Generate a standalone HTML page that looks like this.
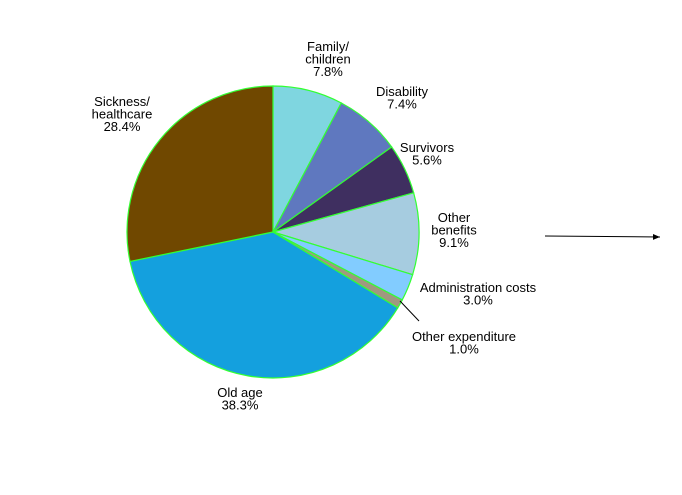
<!DOCTYPE html>
<html><head><meta charset="utf-8"><style>
body{margin:0;background:#fff;}
svg{display:block;font-family:"Liberation Sans",Arial,sans-serif;font-size:13px;}
</style></head><body>
<svg id="chart" width="682" height="495">
<defs><marker id="ah" markerWidth="8" markerHeight="8" refX="7" refY="4" orient="auto"><path d="M0,1 L7,4 L0,7 Z" fill="#000"/></marker></defs>
<g id="slices"></g>
<line x1="400" y1="301" x2="419" y2="321" stroke="#000" stroke-width="1"/>
<line x1="545" y1="236" x2="660" y2="237" stroke="#000" stroke-width="1" marker-end="url(#ah)"/>
<g id="labels" text-anchor="middle" fill="#000"></g>
</svg>
<script>
const categories=["Family/ children","Disability","Survivors","Other benefits","Administration costs","Other expenditure","Old age","Sickness/ healthcare"];
const values=[7.8,7.4,5.6,9.1,3.0,1.0,38.3,28.4];
const colors=["#7fd6e0","#5f78bf","#3f2f60","#a6cce0","#82ccff","#a09880","#14a0de","#704800"];
const labelLines=[["Family/","children","7.8%"],["Disability","7.4%"],["Survivors","5.6%"],["Other","benefits","9.1%"],["Administration costs","3.0%"],["Other expenditure","1.0%"],["Old age","38.3%"],["Sickness/","healthcare","28.4%"]];
const labelPos=[[328,51],[402,96],[427,152],[454,222],[478,292],[464,341],[240,397],[122,106]];
const cx=273,cy=232,r=146;
const NS="http://www.w3.org/2000/svg";
const total=values.reduce((a,b)=>a+b,0);
let a0=0;
const g=document.getElementById('slices');
values.forEach((v,i)=>{
  const a1=a0+v/total*2*Math.PI;
  const x0=cx+r*Math.sin(a0),y0=cy-r*Math.cos(a0),x1=cx+r*Math.sin(a1),y1=cy-r*Math.cos(a1);
  const p=document.createElementNS(NS,'path');
  p.setAttribute('d',`M${cx},${cy} L${x0},${y0} A${r},${r} 0 ${a1-a0>Math.PI?1:0} 1 ${x1},${y1} Z`);
  p.setAttribute('fill',colors[i]);p.setAttribute('stroke','#33ff33');p.setAttribute('stroke-width','1.2');
  
  
  g.appendChild(p);a0=a1;
});
const lg=document.getElementById('labels');
labelLines.forEach((ls,i)=>{
  const t=document.createElementNS(NS,'text');
  
  
  ls.forEach((s,j)=>{const ts=document.createElementNS(NS,'tspan');ts.setAttribute('x',labelPos[i][0]);ts.setAttribute('y',labelPos[i][1]+j*12.5);ts.textContent=s;t.appendChild(ts);});
  lg.appendChild(t);
});
</script>
</body></html>
